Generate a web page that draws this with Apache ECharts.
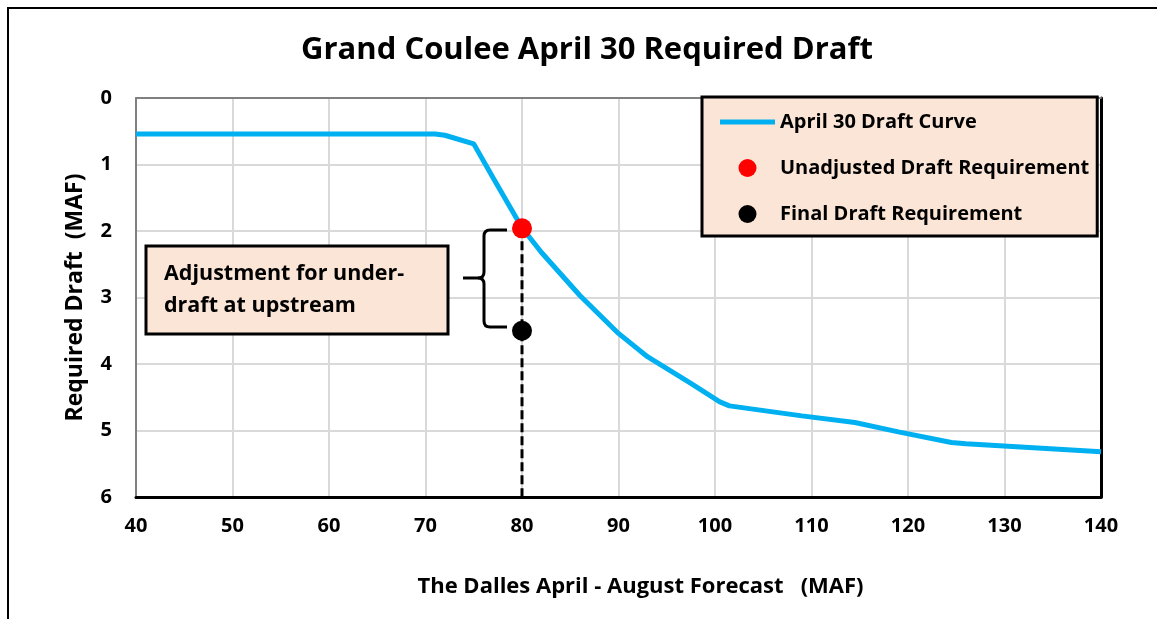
<!DOCTYPE html>
<html>
<head>
<meta charset="utf-8">
<title>Grand Coulee April 30 Required Draft</title>
<script type="text/javascript" src="https://cdn.jsdelivr.net/npm/echarts@6/dist/echarts.min.js"></script>
<style type="text/css">
html, body { margin: 0; padding: 0; background: #fff; }
#main { width: 1157px; height: 619px; }
</style>
</head>
<body>
<div id="main"></div>
<script type="text/javascript">
// April 30 draft curve (forecast MAF -> required draft MAF)
var forecast = [40, 71, 72, 75, 77, 80, 82, 86, 90, 93, 97.5, 100.5, 101.5, 109, 114.5, 119, 124.5, 126, 140];
var draft = [0.54, 0.54, 0.56, 0.69, 1.2, 1.95, 2.32, 2.97, 3.54, 3.89, 4.29, 4.57, 4.63, 4.78, 4.88, 5.02, 5.18, 5.20, 5.32];

var unadjusted = [80, 1.96];
var finalDraft = [80, 3.5];
var dropFrom = [80, 1.96];
var dropTo = [80, 6];

var FONT = 'Open Sans';

var curve = [];
for (var i = 0; i < forecast.length; i++) {
	curve.push([forecast[i], draft[i]]);
}

var chart = echarts.init(document.getElementById('main'));

// curly brace next to the two points
var braceStyle = { stroke: '#000', lineWidth: 3, fill: null };
function seg(x1, y1, x2, y2) {
	return { type: 'line', z: 10, silent: true, shape: { x1: x1, y1: y1, x2: x2, y2: y2 }, style: braceStyle };
}
function curl(x1, y1, cx, cy, x2, y2) {
	return { type: 'bezierCurve', z: 10, silent: true, shape: { x1: x1, y1: y1, cpx1: cx, cpy1: cy, x2: x2, y2: y2 }, style: braceStyle };
}
var brace = [
	seg(507, 230, 490, 230),
	curl(490, 230, 484, 230, 484, 236),
	seg(484, 236, 484, 272),
	curl(484, 272, 484, 278, 478, 278),
	seg(478, 278, 463, 278),
	curl(478, 278, 484, 278, 484, 284),
	seg(484, 284, 484, 321),
	curl(484, 321, 484, 327, 490, 327),
	seg(490, 327, 507, 327)
];

var option = {
	backgroundColor: '#fff',
	animation: false,
	title: {
		text: 'Grand Coulee April 30 Required Draft',
		left: 582,
		top: 30,
		textAlign: 'center',
		textStyle: { fontFamily: FONT, fontWeight: 'bold', fontSize: 31, color: '#000' }
	},
	grid: { left: 136, top: 98, right: 56, bottom: 122 },
	legend: {
		orient: 'vertical',
		left: 702,
		top: 97,
		padding: [15, 8, 12, 18],
		itemGap: 26,
		itemWidth: 55,
		itemHeight: 18,
		backgroundColor: '#FBE5D6',
		borderColor: '#000',
		borderWidth: 3,
		borderRadius: 0,
		textStyle: { fontFamily: FONT, fontWeight: 'bold', fontSize: 20, color: '#000' },
		data: [
			{ name: 'April 30 Draft Curve', icon: 'path://M0,0 L55,0 L55,5 L0,5 Z' },
			{ name: 'Unadjusted Draft Requirement', icon: 'circle' },
			{ name: 'Final Draft Requirement', icon: 'circle' }
		]
	},
	xAxis: [{
		type: 'value',
		min: 40,
		max: 140,
		interval: 10,
		name: 'The Dalles April - August Forecast   (MAF)',
		nameLocation: 'middle',
		nameGap: 79,
		nameTextStyle: { fontFamily: FONT, fontWeight: 'bold', fontSize: 22, color: '#000', padding: [0, 0, 0, 44] },
		axisLine: { onZero: false, lineStyle: { color: '#000', width: 3 } },
		axisTick: { show: false },
		axisLabel: { margin: 19, fontFamily: FONT, fontWeight: 'bold', fontSize: 20, color: '#000' },
		splitLine: { lineStyle: { color: '#d9d9d9', width: 2 } }
	}, {
		type: 'value',
		position: 'top',
		min: 40,
		max: 140,
		interval: 10,
		axisLine: { onZero: false, lineStyle: { color: '#808080', width: 2 } },
		axisTick: { show: false },
		axisLabel: { show: false },
		splitLine: { show: false }
	}],
	yAxis: [{
		type: 'value',
		inverse: true,
		min: 0,
		max: 6,
		interval: 1,
		name: 'Required Draft  (MAF)',
		nameLocation: 'middle',
		nameGap: 49,
		nameRotate: 90,
		nameTextStyle: { fontFamily: FONT, fontWeight: 'bold', fontSize: 23, color: '#000' },
		axisLine: { show: true, onZero: false, lineStyle: { color: '#808080', width: 2 } },
		axisTick: { show: false },
		axisLabel: { margin: 24, fontFamily: FONT, fontWeight: 'bold', fontSize: 20, color: '#000' },
		splitLine: { lineStyle: { color: '#d9d9d9', width: 2 } }
	}, {
		type: 'value',
		position: 'right',
		inverse: true,
		min: 0,
		max: 6,
		interval: 1,
		axisLine: { show: true, onZero: false, lineStyle: { color: '#000', width: 3 } },
		axisTick: { show: false },
		axisLabel: { show: false },
		splitLine: { show: false }
	}],
	series: [
		{
			name: 'April 30 Draft Curve',
			type: 'line',
			data: curve,
			symbol: 'none',
			color: '#00B0F0',
			lineStyle: { width: 5, color: '#00B0F0' },
			z: 3
		},
		{
			name: 'drop',
			type: 'line',
			data: [dropFrom, dropTo],
			symbol: 'none',
			lineStyle: { color: '#000', width: 3, type: [9, 4] },
			z: 2
		},
		{
			name: 'Unadjusted Draft Requirement',
			type: 'scatter',
			data: [unadjusted],
			symbolSize: 20,
			color: '#FF0000',
			itemStyle: { color: '#FF0000', opacity: 1 },
			z: 5
		},
		{
			name: 'Final Draft Requirement',
			type: 'scatter',
			data: [finalDraft],
			symbolSize: 20,
			color: '#000',
			itemStyle: { color: '#000', opacity: 1 },
			z: 5
		}
	],
	graphic: [
		// outer frame
		{ type: 'polyline', silent: true, shape: { points: [[8, 619], [8, 8], [1157, 8]] }, style: { stroke: '#000', lineWidth: 2, fill: null } },
		// annotation box
		{ type: 'rect', z: 10, shape: { x: 146, y: 246, width: 302, height: 88 }, style: { fill: '#FBE5D6', stroke: '#000', lineWidth: 3 } },
		{ type: 'text', z: 11, x: 164, y: 274, style: { text: 'Adjustment for under-', fontFamily: FONT, fontWeight: 'bold', fontSize: 21.5, fill: '#000', verticalAlign: 'middle' } },
		{ type: 'text', z: 11, x: 164, y: 306, style: { text: 'draft at upstream', fontFamily: FONT, fontWeight: 'bold', fontSize: 21.5, fill: '#000', verticalAlign: 'middle' } }
	].concat(brace)
};

chart.setOption(option);
</script>
</body>
</html>
